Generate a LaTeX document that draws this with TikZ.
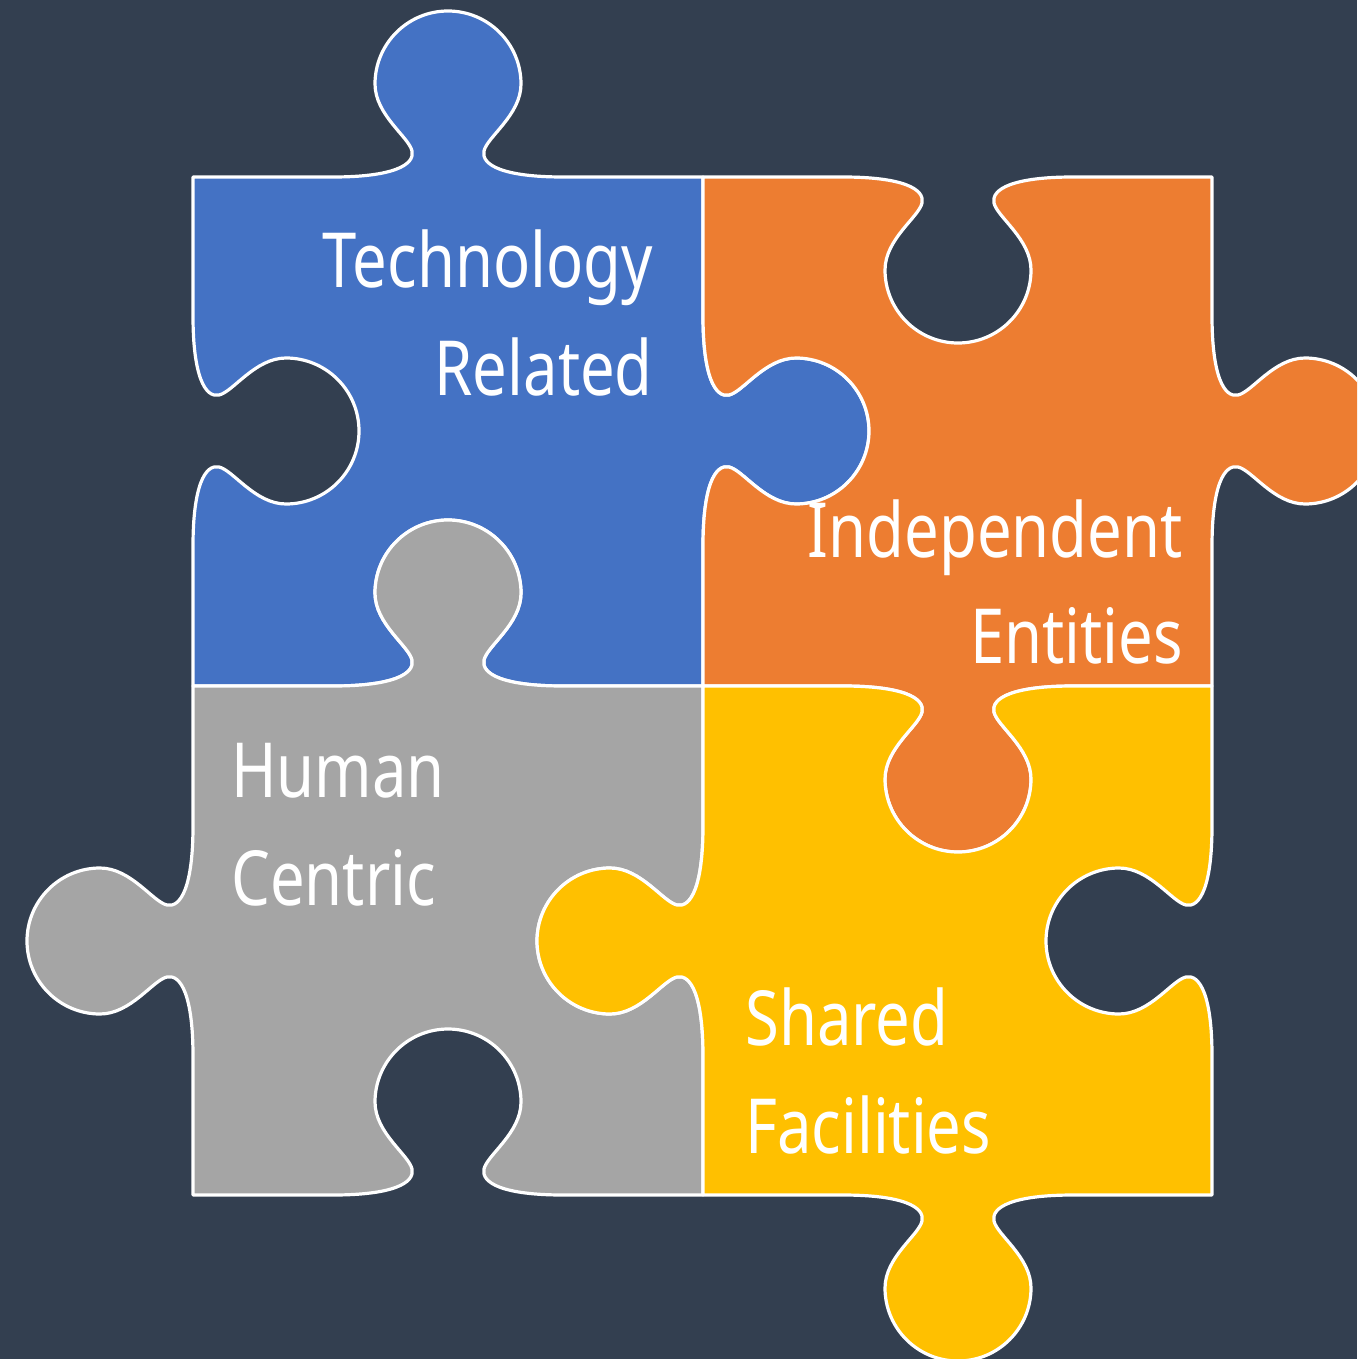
\documentclass[tikz,border=0pt]{standalone}
\usepackage{fontspec}
\newfontfamily\lblfont[FakeStretch=0.81]{Noto Sans}
\definecolor{bgc}{HTML}{333F50}
\definecolor{pblue}{HTML}{4472C4}
\definecolor{porange}{HTML}{ED7D31}
\definecolor{pgray}{HTML}{A5A5A5}
\definecolor{pyellow}{HTML}{FFC000}
\tikzset{
  feat/.style n args={6}{insert path={
    -- ({#1+(-115)*#3+(0)*#5},{#2+(-115)*#4+(0)*#6})
    .. controls ({#1+(-55)*#3+(0)*#5},{#2+(-55)*#4+(0)*#6})
           and ({#1+(-33)*#3+(12)*#5},{#2+(-33)*#4+(12)*#6})
    .. ({#1+(-36)*#3+(26)*#5},{#2+(-36)*#4+(26)*#6})
    .. controls ({#1+(-39)*#3+(40)*#5},{#2+(-39)*#4+(40)*#6})
           and ({#1+(-73)*#3+(62)*#5},{#2+(-73)*#4+(62)*#6})
    .. ({#1+(-73)*#3+(93)*#5},{#2+(-73)*#4+(93)*#6})
    .. controls ({#1+(-73)*#3+(133.3)*#5},{#2+(-73)*#4+(133.3)*#6})
           and ({#1+(-40.3)*#3+(166)*#5},{#2+(-40.3)*#4+(166)*#6})
    .. ({#1+(0)*#3+(166)*#5},{#2+(0)*#4+(166)*#6})
    .. controls ({#1+(40.3)*#3+(166)*#5},{#2+(40.3)*#4+(166)*#6})
           and ({#1+(73)*#3+(133.3)*#5},{#2+(73)*#4+(133.3)*#6})
    .. ({#1+(73)*#3+(93)*#5},{#2+(73)*#4+(93)*#6})
    .. controls ({#1+(73)*#3+(62)*#5},{#2+(73)*#4+(62)*#6})
           and ({#1+(39)*#3+(40)*#5},{#2+(39)*#4+(40)*#6})
    .. ({#1+(36)*#3+(26)*#5},{#2+(36)*#4+(26)*#6})
    .. controls ({#1+(33)*#3+(12)*#5},{#2+(33)*#4+(12)*#6})
           and ({#1+(55)*#3+(0)*#5},{#2+(55)*#4+(0)*#6})
    .. ({#1+(115)*#3+(0)*#5},{#2+(115)*#4+(0)*#6})
  }},
  piece/.style={draw=white, line width=3.2pt, line join=round},
  lbl/.style={inner sep=0pt, text=white, font={\lblfont\fontsize{76}{90}\selectfont}}
}
\begin{document}
\begin{tikzpicture}[x=1pt,y=-1pt]
\useasboundingbox (0,0) rectangle (1357,1359);
\fill[bgc] (0,0) rectangle (1357,1359);
\clip (0,0) rectangle (1357,1359);
% blue
\path[piece, fill=pblue] (193,177)
  [feat={448}{177}{1}{0}{0}{-1}] -- (703,177)
  [feat={703}{431}{0}{1}{1}{0}] -- (703,686)
  [feat={448}{686}{-1}{0}{0}{-1}] -- (193,686)
  [feat={193}{431}{0}{-1}{1}{0}] -- cycle;
% orange
\path[piece, fill=porange] (703,177)
  [feat={958}{177}{1}{0}{0}{1}] -- (1212,177)
  [feat={1212}{431}{0}{1}{1}{0}] -- (1212,686)
  [feat={958}{686}{-1}{0}{0}{1}] -- (703,686)
  [feat={703}{431}{0}{-1}{1}{0}] -- cycle;
% gray
\path[piece, fill=pgray] (193,686)
  [feat={448}{686}{1}{0}{0}{-1}] -- (703,686)
  [feat={703}{941}{0}{1}{-1}{0}] -- (703,1195)
  [feat={448}{1195}{-1}{0}{0}{-1}] -- (193,1195)
  [feat={193}{941}{0}{-1}{-1}{0}] -- cycle;
% yellow
\path[piece, fill=pyellow] (703,686)
  [feat={958}{686}{1}{0}{0}{1}] -- (1212,686)
  [feat={1212}{941}{0}{1}{-1}{0}] -- (1212,1195)
  [feat={958}{1195}{-1}{0}{0}{1}] -- (703,1195)
  [feat={703}{941}{0}{-1}{-1}{0}] -- cycle;
% labels
\node[lbl, anchor=base east] (tech) at (653,287) {Technology};
\node[lbl, anchor=base east] (rel) at (653,395) {Related};
\node[lbl, anchor=base east] (ind) at (1183,557) {Independent};
\node[lbl, anchor=base east] (ent) at (1183,663) {Entities};
\node[lbl, anchor=base west] (hum) at (231,797) {Human};
\node[lbl, anchor=base west] (cen) at (231,905) {Centric};
\node[lbl, anchor=base west] (sha) at (745,1045) {Shared};
\node[lbl, anchor=base west] (fac) at (745,1153) {Facilities};
\end{tikzpicture}
\end{document}
